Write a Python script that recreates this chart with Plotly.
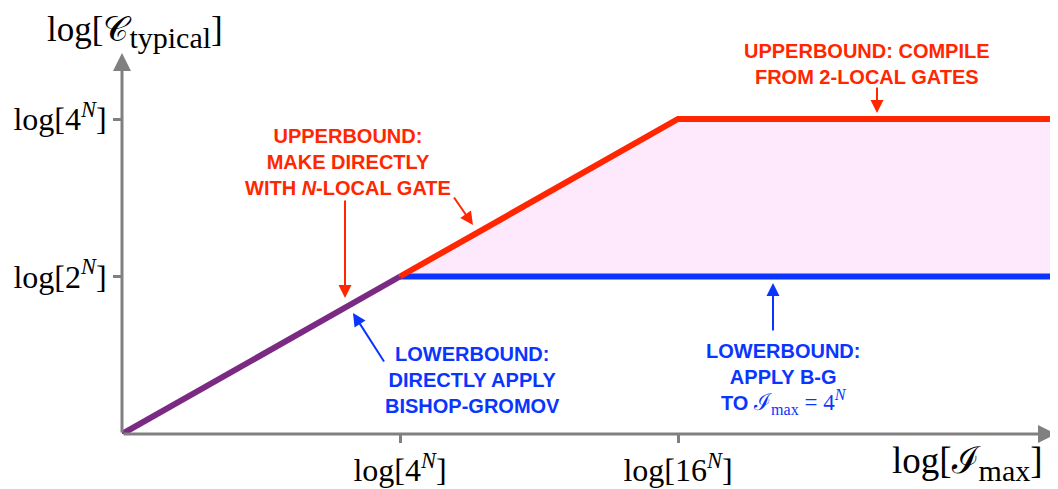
import plotly.graph_objects as go

# ---- data (units of N*log2) ----
x_knots = [0, 2, 4]          # log[I_max] knots: 0, log 4^N, log 16^N
y_knots = [0, 1, 2]          # log[C] : 0, log 2^N, log 4^N
x_ticks = [2, 4]
x_ticklabels = ["log[4<sup><i>N</i></sup>]", "log[16<sup><i>N</i></sup>]"]
y_ticks = [1, 2]
y_ticklabels = ["log[2<sup><i>N</i></sup>]", "log[4<sup><i>N</i></sup>]"]

X_MAX = 936 / 139.0
Y_MAX = 404 / 157.5

GRAY = "#808080"
RED = "#FF2600"
BLUE = "#0A35FF"
PURPLE = "#7B2A84"
PINK = "#FDE8FC"
SERIF = "Liberation Serif, DejaVu Serif, serif"
SANS = "Liberation Sans, Arial, sans-serif"

fig = go.Figure()

# pink region between the bounds
fig.add_trace(go.Scatter(
    x=[x_knots[1], x_knots[2], X_MAX, X_MAX, x_knots[1]],
    y=[y_knots[1], y_knots[2], y_knots[2], y_knots[1], y_knots[1]],
    fill="toself", fillcolor=PINK, line=dict(width=0), mode="lines",
    hoverinfo="skip", showlegend=False))

# blue lower bound
fig.add_trace(go.Scatter(x=[x_knots[1], X_MAX], y=[y_knots[1], y_knots[1]],
                         mode="lines", line=dict(color=BLUE, width=6), showlegend=False))
# red upper bound
fig.add_trace(go.Scatter(x=[x_knots[1], x_knots[2], X_MAX], y=[y_knots[1], y_knots[2], y_knots[2]],
                         mode="lines", line=dict(color=RED, width=6), showlegend=False))
# purple common segment
fig.add_trace(go.Scatter(x=[x_knots[0], x_knots[1]], y=[y_knots[0], y_knots[1]],
                         mode="lines", line=dict(color=PURPLE, width=6), showlegend=False))


def px2x(p):
    return (p - 122) / 139.0


def py2y(p):
    return (434 - p) / 157.5


annotations = []
# axes arrows
annotations.append(dict(x=px2x(1056), y=0, ax=0, ay=0, xref="x", yref="y", axref="x", ayref="y",
                        text="", showarrow=True, arrowhead=2, arrowsize=1.2, arrowwidth=3, arrowcolor=GRAY))
annotations.append(dict(x=0, y=py2y(53), ax=0, ay=0, xref="x", yref="y", axref="x", ayref="y",
                        text="", showarrow=True, arrowhead=2, arrowsize=1.2, arrowwidth=3, arrowcolor=GRAY))


def arrow(tail, tip, color):
    annotations.append(dict(x=px2x(tip[0]), y=py2y(tip[1]), ax=px2x(tail[0]), ay=py2y(tail[1]),
                            xref="x", yref="y", axref="x", ayref="y", text="", showarrow=True,
                            arrowhead=2, arrowsize=1.3, arrowwidth=2, arrowcolor=color))


arrow((345, 199), (345, 298), RED)
arrow((453, 196), (473, 225), RED)
arrow((877, 86), (877, 113), RED)
arrow((385, 363), (353, 313), BLUE)
arrow((773, 332), (773, 283), BLUE)


def label(text, cx, cy, color):
    annotations.append(dict(x=px2x(cx), y=py2y(cy), xref="x", yref="y", text=text, showarrow=False,
                            font=dict(family=SANS, size=20, color=color), align="center",
                            xanchor="center", yanchor="middle"))


label("<b>UPPERBOUND:<br>MAKE DIRECTLY<br>WITH <i>N</i>-LOCAL GATE</b>", 348, 162, RED)
label("<b>UPPERBOUND: COMPILE<br>FROM 2-LOCAL GATES</b>", 867, 64, RED)
label("<b>LOWERBOUND:<br>DIRECTLY APPLY<br>BISHOP-GROMOV</b>", 472, 380, BLUE)
label("<b>LOWERBOUND:<br>APPLY B-G</b><br><b>TO</b> <span style=\"font-family:'Liberation Serif';font-size:23px\">"
      "ℐ<sub>max</sub> = 4<sup><i>N</i></sup></span>", 783, 379, BLUE)

# axis titles
annotations.append(dict(x=(135 - 122) / 936, y=(434 - 8) / 404, xref="paper", yref="paper",
                        text="log[𝒞<sub><span style=\"font-size:30px\">typical</span></sub>]", showarrow=False,
                        font=dict(family=SERIF, size=35, color="black"), xanchor="center", yanchor="top"))
annotations.append(dict(x=(967 - 122) / 936, y=(434 - 463) / 404, xref="paper", yref="paper",
                        text="log[ℐ<sub><span style=\"font-size:30px\">max</span></sub>]", showarrow=False,
                        font=dict(family=SERIF, size=37, color="black"), xanchor="center", yanchor="middle"))

# the page adds an 8px body margin; the figure is sized to fill the rest of the window
fig.update_layout(
    width=1050, height=481,
    margin=dict(l=114, r=0, t=22, b=55, autoexpand=False),
    paper_bgcolor="white", plot_bgcolor="white",
    annotations=annotations,
    showlegend=False,
    xaxis=dict(range=[0, X_MAX], showgrid=False, zeroline=False, showline=False, automargin=False,
               tickmode="array", tickvals=x_ticks, ticktext=x_ticklabels,
               ticks="outside", ticklen=8, tickwidth=3, tickcolor=GRAY,
               tickfont=dict(family=SERIF, size=32, color="black")),
    yaxis=dict(range=[0, Y_MAX], showgrid=False, zeroline=False, showline=False, automargin=False,
               tickmode="array", tickvals=y_ticks, ticktext=y_ticklabels,
               ticks="outside", ticklen=8, tickwidth=3, tickcolor=GRAY,
               tickfont=dict(family=SERIF, size=32, color="black")),
)

fig.write_html("out.html")
